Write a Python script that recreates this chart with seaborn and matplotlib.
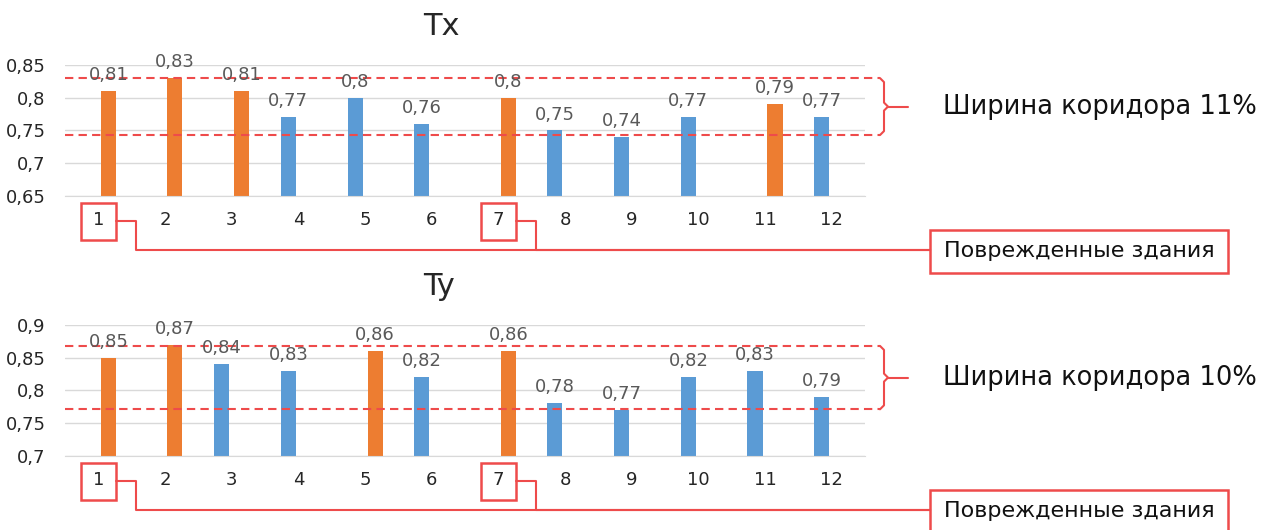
import numpy as np
import pandas as pd
import seaborn as sns
import matplotlib.pyplot as plt
from matplotlib.patches import Rectangle
from matplotlib.ticker import FuncFormatter

# data
buildings = [str(i) for i in range(1, 13)]
tx_values = [0.81, 0.83, 0.81, 0.77, 0.8, 0.76, 0.8, 0.75, 0.74, 0.77, 0.79, 0.77]
tx_orange = [1, 1, 1, 0, 0, 0, 1, 0, 0, 0, 1, 0]
ty_values = [0.85, 0.87, 0.84, 0.83, 0.86, 0.82, 0.86, 0.78, 0.77, 0.82, 0.83, 0.79]
ty_orange = [1, 1, 0, 0, 1, 0, 1, 0, 0, 0, 0, 0]
tx_corridor = (0.743, 0.83)
ty_corridor = (0.771, 0.868)
tx_ticks = [0.65, 0.7, 0.75, 0.8, 0.85]
ty_ticks = [0.7, 0.75, 0.8, 0.85, 0.9]
damaged = ['1', '7']

BLUE = '#5B9BD5'
ORANGE = '#ED7D31'
RED = '#EE4B4B'
GRID = '#D9D9D9'

sns.set_style('white')
plt.rcParams['font.family'] = ['DejaVu Sans']

W, H = 1269, 530
fig = plt.figure(figsize=(W / 100, H / 100), dpi=100)

# axes box in pixels
AX_L, AX_R = 65, 865
CAT_PX = (AX_R - AX_L) / 12


def px_to_x(px):
    # pixel column -> category data coordinate
    return -0.5 + (px - AX_L) / CAT_PX


def fmt(v, pos=None):
    return f'{v:g}'.replace('.', ',')


def panel(top, bottom, values, orange, ticks, corridor, title, note):
    ax = fig.add_axes([AX_L / W, 1 - bottom / H, (AX_R - AX_L) / W, (bottom - top) / H])
    axh = bottom - top
    df = pd.DataFrame({'building': buildings, 'value': values,
                       'series': ['orange' if o else 'blue' for o in orange]})
    sns.barplot(data=df, x='building', y='value', hue='series', order=buildings,
                hue_order=['blue', 'orange'], palette={'blue': BLUE, 'orange': ORANGE},
                dodge=True, width=0.6, gap=0.25, saturation=1, linewidth=0,
                legend=False, ax=ax)
    for c in ax.containers:
        ax.bar_label(c, labels=[fmt(v) for v in c.datavalues], padding=5,
                     fontsize=13, color='#595959')

    ax.set_ylim(ticks[0], ticks[-1])
    ax.set_xlim(-0.5, 11.5)
    ax.set_yticks(ticks)
    ax.yaxis.set_major_formatter(FuncFormatter(fmt))
    ax.yaxis.grid(True, color=GRID, lw=1)
    ax.set_axisbelow(True)
    for s in ['top', 'left', 'right']:
        ax.spines[s].set_visible(False)
    ax.spines['bottom'].set_color(GRID)
    ax.tick_params(axis='y', length=0, labelsize=13, labelcolor='#262626', pad=14)
    ax.tick_params(axis='x', length=0, labelsize=13, labelcolor='#262626', pad=11)
    ax.set_xlabel('')
    ax.set_ylabel('')
    ax.text((423 - AX_L) / (AX_R - AX_L), 1 + 30 / axh, title,
            transform=ax.transAxes, ha='left', va='baseline', fontsize=22)

    # corridor lines and brace
    lo, hi = corridor
    mid = (lo + hi) / 2
    d = 4 / axh * (ticks[-1] - ticks[0])
    x_end, xv, tip, tail = px_to_x(880), px_to_x(884), px_to_x(888), px_to_x(908)
    for v in corridor:
        ax.plot([-0.5, x_end], [v, v], color=RED, ls=(0, (4, 2.5)), lw=1.5, clip_on=False)
    ax.plot([x_end, xv, xv, tip, xv, xv, x_end],
            [hi, hi - d, mid + d, mid, mid - d, lo + d, lo],
            color=RED, lw=1.5, clip_on=False)
    ax.plot([tip, tail], [mid, mid], color=RED, lw=1.5, clip_on=False)
    ax.text(px_to_x(943), mid, note, ha='left', va='center', fontsize=18.5, color='#111111')

    # damaged buildings callout
    tr = ax.get_xaxis_transform()
    box_l = px_to_x(930)
    for b in damaged:
        i = buildings.index(b)
        ax.add_patch(Rectangle((i - 0.26, -44 / axh), 0.52, 37 / axh, transform=tr,
                               fill=False, ec=RED, lw=1.8, clip_on=False))
        ax.plot([i + 0.26, i + 0.56, i + 0.56, box_l],
                [-25 / axh, -25 / axh, -54 / axh, -54 / axh],
                transform=tr, color=RED, lw=1.5, clip_on=False)
    box_r = px_to_x(1228)
    ax.add_patch(Rectangle((box_l, -77 / axh), box_r - box_l, 43 / axh, transform=tr,
                           fill=False, ec=RED, lw=1.8, clip_on=False))
    ax.text((box_l + box_r) / 2, -55.5 / axh, 'Поврежденные здания', transform=tr,
            ha='center', va='center', fontsize=16, color='#111111')
    return ax


panel(65, 196, tx_values, tx_orange, tx_ticks, tx_corridor, 'Tx', 'Ширина коридора 11%')
panel(325, 455.7, ty_values, ty_orange, ty_ticks, ty_corridor, 'Ty', 'Ширина коридора 10%')

fig.savefig('out.png', dpi=100)
